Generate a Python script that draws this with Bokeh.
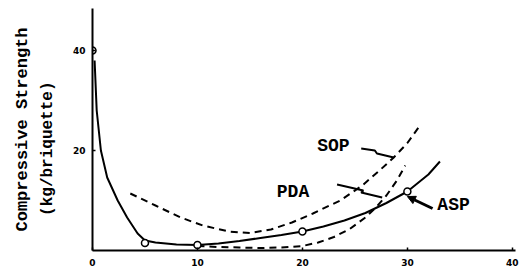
from bokeh.plotting import figure
from bokeh.models import Range1d, FixedTicker, Label, Arrow, NormalHead, LinearAxis
from bokeh.embed import file_html
from bokeh.resources import INLINE

# measured points (ASP)
asp_pts_x = [0, 5, 10, 20, 30]
asp_pts_y = [40, 1.5, 1.1, 3.8, 11.8]

# curves
asp_x = [0.2, 0.4, 0.8, 1.4, 2.4, 3.3, 4.3, 5.0, 6.0, 8.0, 10.0, 12.0, 14.0, 16.0, 18.0, 20.0, 22.0, 24.0, 26.0, 28.0, 30.0, 32.0, 33.1]
asp_y = [38, 28, 20, 14.6, 10, 6.6, 3.4, 2.0, 1.6, 1.2, 1.1, 1.4, 1.9, 2.5, 3.1, 3.8, 4.8, 6.0, 7.5, 9.5, 11.8, 15.2, 17.8]

sop_x = [3.6, 6.0, 8.4, 10.5, 13.0, 15.0, 17.0, 19.0, 21.0, 23.6, 25.7, 27.5, 28.7, 30.0, 31.2]
sop_y = [11.4, 9.0, 6.6, 5.0, 3.8, 3.5, 4.2, 5.6, 7.4, 10.0, 13.0, 16.3, 18.6, 21.5, 25.0]

pda_x = [10.0, 12.0, 14.0, 16.0, 18.0, 20.0, 21.5, 23.0, 24.5, 26.0, 27.0, 28.0, 29.0, 29.8]
pda_y = [0.9, 0.7, 0.6, 0.5, 0.6, 0.9, 1.6, 2.7, 4.3, 6.6, 8.6, 11.0, 14.0, 17.0]

x_ticks = [0, 10, 20, 30, 40]
y_ticks = [20, 40]

y_title_1 = "Compressive Strength"
y_title_2 = "(kg/briquette)"

# annotation labels and pointers
series_names = ["SOP", "PDA", "ASP"]
name_x = [22.95, 19.1, 34.4]
name_y = [21.0, 11.8, 9.2]
sop_ptr_x = [25.6, 26.9, 27.1, 28.7]
sop_ptr_y = [20.4, 20.0, 19.4, 18.6]
pda_ptr_x = [23.3, 25.8, 25.6, 27.6]
pda_ptr_y = [13.2, 12.0, 11.6, 10.6]
asp_ptr = [32.4, 8.4, 30.0, 10.8]

FONT = "Liberation Mono"

p = figure(width=520, height=277, output_backend="svg", toolbar_location=None,
           x_range=Range1d(0, 40.3), y_range=Range1d(0, 48.4),
           min_border_left=92, min_border_right=5, min_border_top=8, min_border_bottom=27)
p.outline_line_color = None
p.xgrid.visible = False
p.ygrid.visible = False
p.background_fill_color = "white"

for ax in (p.xaxis, p.yaxis):
    ax.axis_line_width = 2
    ax.axis_line_color = "black"
    ax.major_tick_in = 3
    ax.major_tick_out = 0
    ax.minor_tick_line_color = None
    ax.major_tick_line_width = 1.5
    ax.major_label_text_font = "DejaVu Sans"
    ax.major_label_text_font_style = "bold"
    ax.major_label_text_font_size = "9px"
    ax.major_label_text_color = "black"
p.xaxis.ticker = FixedTicker(ticks=x_ticks)
p.yaxis.ticker = FixedTicker(ticks=y_ticks)
p.xaxis.major_label_standoff = 8
p.yaxis.major_label_standoff = 7

p.yaxis.axis_label = y_title_2 + "\u00a0" * 4
p.yaxis.axis_label_text_font = FONT
p.yaxis.axis_label_text_font_style = "bold"
p.yaxis.axis_label_text_font_size = "16px"
p.yaxis.axis_label_text_color = "black"
p.yaxis.axis_label_standoff = 13

outer = LinearAxis(ticker=FixedTicker(ticks=[]), axis_line_color=None,
                   major_tick_line_color=None, minor_tick_line_color=None,
                   axis_label=y_title_1, axis_label_text_font=FONT,
                   axis_label_text_font_style="bold", axis_label_text_font_size="17px",
                   axis_label_text_color="black", axis_label_standoff=4)
p.add_layout(outer, "left")

p.line(asp_x, asp_y, line_width=2, line_color="black")
p.line(sop_x, sop_y, line_width=2, line_color="black", line_dash="7 5")
p.line(pda_x, pda_y, line_width=2, line_color="black", line_dash="7 5")
p.scatter(asp_pts_x, asp_pts_y, marker="circle", size=7, fill_color="white",
          line_color="black", line_width=1.5)

p.line(sop_ptr_x, sop_ptr_y, line_width=2, line_color="black")
p.line(pda_ptr_x, pda_ptr_y, line_width=2, line_color="black")
p.add_layout(Arrow(end=NormalHead(size=8, fill_color="black", line_color="black"),
                   x_start=asp_ptr[0], y_start=asp_ptr[1], x_end=asp_ptr[2], y_end=asp_ptr[3],
                   line_width=3, line_color="black"))

for t, x, y in zip(series_names, name_x, name_y):
    p.add_layout(Label(x=x, y=y, text=t, text_font=FONT, text_font_style="bold",
                       text_font_size="18px", text_align="center", text_baseline="middle",
                       text_color="black"))

open("out.html", "w").write(file_html(p, INLINE))
